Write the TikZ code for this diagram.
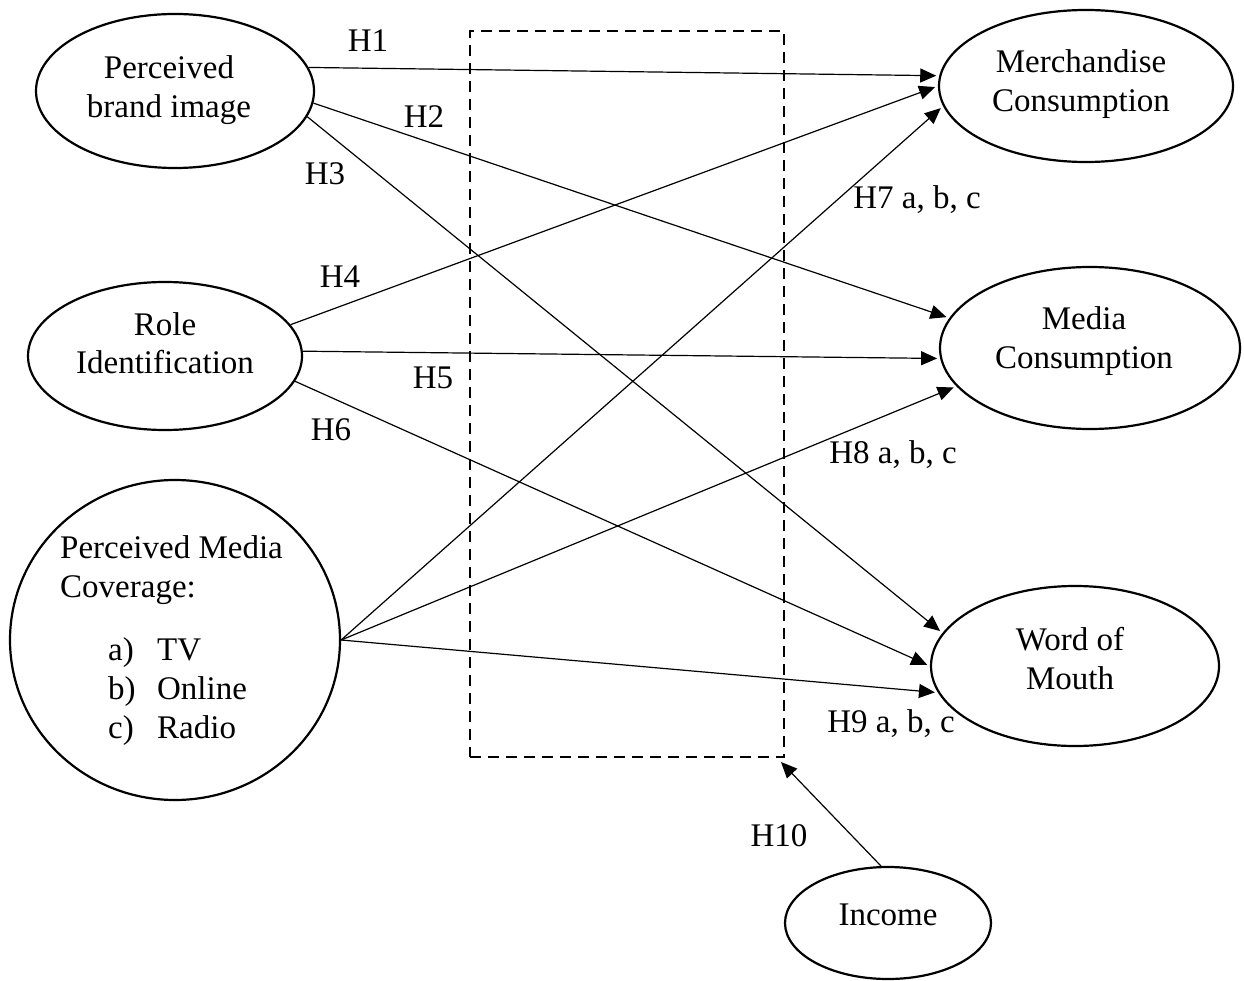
\documentclass[tikz,border=0pt]{standalone}
\usepackage{fontspec}
\setmainfont{Liberation Serif}
\usetikzlibrary{arrows.meta,shapes.geometric}
\newcommand\mltext[1]{\begin{tabular}[t]{@{}c@{}}#1\end{tabular}}
\begin{document}
\begin{tikzpicture}[x=1pt,y=-1pt,
  every node/.style={font=\fontsize{33}{39}\selectfont, inner sep=0pt},
  ell/.style={draw, ellipse, line width=2.2pt, inner sep=0pt},
  txt/.style={anchor=base},
  lab/.style={anchor=base},
  arr/.style={line width=1.2pt, shorten >=3pt, -{Triangle[length=16pt,width=14pt]}},
  dbox/.style={draw, line width=2.4pt, dash pattern=on 11pt off 7pt}]
\useasboundingbox (0,0) rectangle (1244,981);
% ellipses
\node[ell, minimum width=278pt, minimum height=154pt] (pbi) at (175,91) {};
\node[ell, minimum width=274pt, minimum height=148pt] (role) at (165,356) {};
\node[ell, minimum width=330pt, minimum height=320pt] (pmc) at (175,640) {};
\node[ell, minimum width=294pt, minimum height=152pt] (merch) at (1086,86) {};
\node[ell, minimum width=300pt, minimum height=162pt] (media) at (1090,348) {};
\node[ell, minimum width=288pt, minimum height=160pt] (wom) at (1075,666) {};
\node[ell, minimum width=206pt, minimum height=112pt] (inc) at (888,923) {};
% texts
\node[txt] (pbiT) at (169,79) {\mltext{Perceived\\brand image}};
\node[txt] (roleT) at (165,335) {\mltext{Role\\Identification}};
\node[txt] (merchT) at (1081,73) {\mltext{Merchandise\\Consumption}};
\node[txt] (mediaT) at (1084,330) {\mltext{Media\\Consumption}};
\node[txt] (womT) at (1070,650) {\mltext{Word of\\Mouth}};
\node[txt] (incT) at (888,925) {Income};
\node[anchor=base west] (pmcT) at (60,558) {\begin{tabular}[t]{@{}l@{}}Perceived Media\\Coverage:\end{tabular}};
\node[anchor=base west] (pmcL) at (108,660) {\begin{tabular}[t]{@{}l@{}}\makebox[49pt][l]{a)}TV\\\makebox[49pt][l]{b)}Online\\\makebox[49pt][l]{c)}Radio\end{tabular}};
% dashed box
\node[dbox, minimum width=314pt, minimum height=726pt] (box) at (627,394) {};
\coordinate (h10end) at (781,762);
% arrows
\draw[arr] (pbi.10) -- (merch.176);
\draw[arr] (pbi.-5) -- (media.168);
\draw[arr] (pbi.-11) -- (wom.166);
\draw[arr] (role.14) -- (merch.180);
\draw[arr] (role.2) -- (media.184);
\draw[arr] (role.-11) -- (wom.180);
\draw[arr] (pmc.east) -- (merch.188);
\draw[arr] (pmc.east) -- (media.196);
\draw[arr] (pmc.east) -- (wom.191);
\draw[arr, shorten >=0pt] (inc.97) -- (h10end);
% labels
\node[lab] (l1) at (368,52) {H1};
\node[lab] (l2) at (424,128) {H2};
\node[lab] (l3) at (325,185) {H3};
\node[lab] (l4) at (340,288) {H4};
\node[lab] (l5) at (433,388) {H5};
\node[lab] (l6) at (331,440) {H6};
\node[lab] (l7) at (917,209) {H7 a, b, c};
\node[lab] (l8) at (893,463) {H8 a, b, c};
\node[lab] (l9) at (891,732) {H9 a, b, c};
\node[lab] (l10) at (779,846) {H10};
\end{tikzpicture}
\end{document}
